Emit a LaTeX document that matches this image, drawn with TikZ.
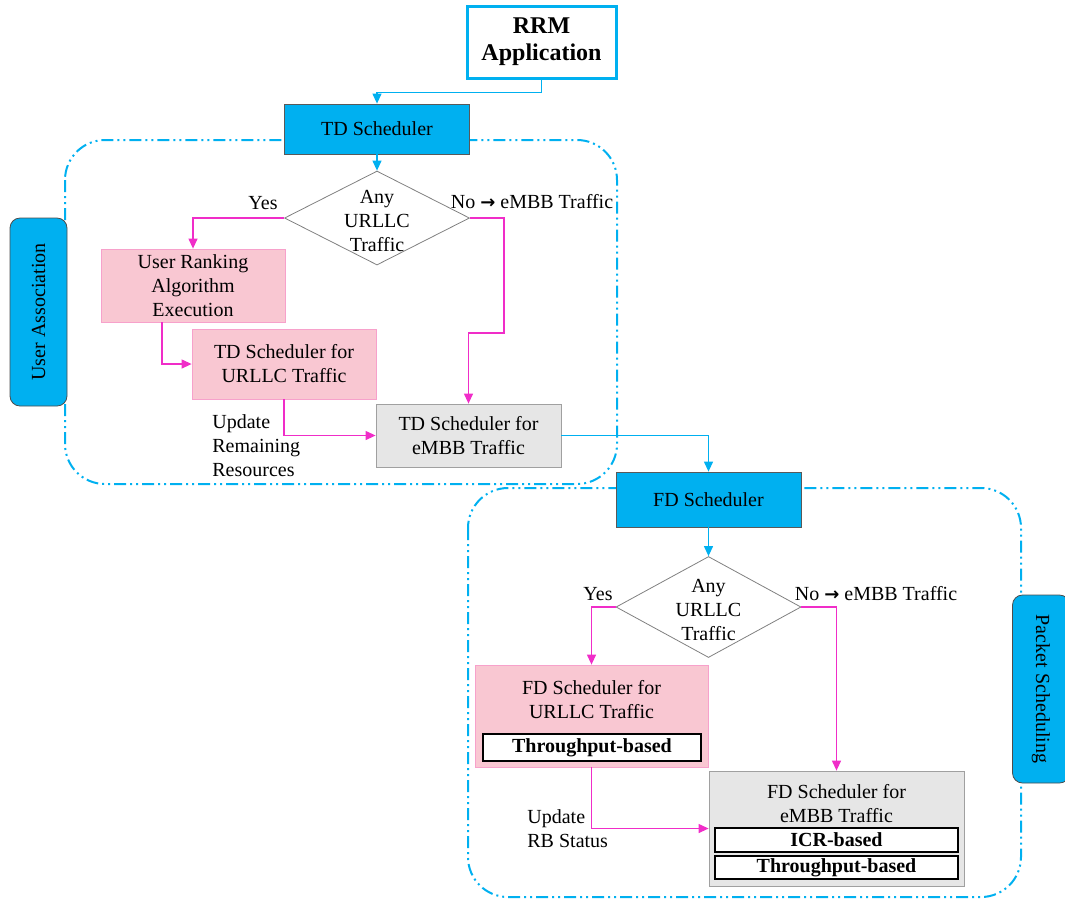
\documentclass[tikz,border=0pt]{standalone}
\usepackage{fontspec}
\setmainfont{Liberation Serif}
\newfontfamily\arrowfont{DejaVu Sans}
\usetikzlibrary{arrows.meta,shapes.geometric}

\definecolor{skyblue}{HTML}{00B0F0}
\definecolor{pinkfill}{HTML}{F9C7D2}
\definecolor{pinkline}{HTML}{F7A1CB}
\definecolor{magentaline}{HTML}{F02DC8}
\definecolor{greyfill}{HTML}{E6E6E6}
\definecolor{greyline}{HTML}{A0A0A0}

\begin{document}
\begin{tikzpicture}[x=0.5pt, y=-0.5pt]
    \tikzstyle{every node}=[font=\fontsize{10}{12}\selectfont, align=center, inner sep=0pt]
    \tikzstyle{bluebox}=[draw=gray!70!black, fill=skyblue, minimum width=92.5pt]
    \tikzstyle{pinkbox}=[draw=pinkline, fill=pinkfill]
    \tikzstyle{greybox}=[draw=greyline, fill=greyfill]
    \tikzstyle{decision}=[diamond, draw=gray, fill=white, minimum width=92.5pt, minimum height=47pt]
    \tikzstyle{methodbox}=[draw=black, line width=1.2pt, fill=white, font=\fontsize{10}{12}\selectfont\bfseries]
    \tikzstyle{sidetab}=[draw=gray!60!black, fill=skyblue, rounded corners=5pt, minimum width=94pt, minimum height=28.5pt]
    \tikzstyle{region}=[draw=skyblue, line width=1pt, rounded corners=20pt, dash pattern=on 6pt off 2pt on 1pt off 2pt on 1pt off 2pt]
    \tikzstyle{bluearrow}=[draw=skyblue, line width=0.6pt, -{Triangle[length=5pt,width=4.5pt]}]
    \tikzstyle{pinkarrow}=[draw=magentaline, line width=0.6pt, -{Triangle[length=5pt,width=4.5pt]}]

    \useasboundingbox (0,0) rectangle (1065,902);

% dash-dot regions for the two scheduling stages
    \draw[region] (65,140) rectangle (617,484);
    \draw[region] (468,488) rectangle (1021,897);

% side tabs
    \node[sidetab, rotate=90] (useras) at (38.5,312) {User Association};
    \node[sidetab, rotate=-90] (packsch) at (1041,689) {Packet Scheduling};

% time domain part
    \node[draw=skyblue, line width=1.5pt, fill=white, minimum width=74.5pt, minimum height=36pt, font=\fontsize{12}{13.5}\selectfont\bfseries] (rrm) at (541.5,42) {RRM\\Application};
    \node[bluebox, minimum height=25pt] (td) at (377,129) {TD Scheduler};
    \node[decision] (tddec) at (377,218) {};
    \node (tddectxt) at (377,221) {Any\\URLLC\\Traffic};
    \node (tdyes) at (263,203) {Yes};
    \node (tdno) at (532,202) {No {\arrowfont\bfseries\fontsize{9}{10}\selectfont →} eMBB Traffic};
    \node[pinkbox, minimum width=92pt, minimum height=36.5pt] (rank) at (193,285.5) {User Ranking\\Algorithm\\Execution};
    \node[pinkbox, minimum width=92pt, minimum height=35pt] (tdurllc) at (284,364) {TD Scheduler for\\URLLC Traffic};
    \node[greybox, minimum width=92.5pt, minimum height=31.5pt] (tdembb) at (468.5,435.5) {TD Scheduler for\\eMBB Traffic};
    \node[anchor=west, align=left] (tdupdate) at (212,446) {Update\\Remaining\\Resources};

    \draw[bluearrow] (rrm.south) -- ++(0,13) -| (td.north);
    \draw[bluearrow] (td.south) -- (tddec.north);
    \draw[pinkarrow] (tddec.west) -| (rank.north);
    \draw[pinkarrow] (tddec.east) -- ++(34,0) -- ++(0,115) -| (tdembb.north);
    \draw[pinkarrow] ([xshift=-15.5pt]rank.south) |- (tdurllc.west);
    \draw[pinkarrow] (tdurllc.south) |- (tdembb.west);

% frequency domain part
    \node[bluebox, minimum height=27.5pt] (fd) at (708.5,499.5) {FD Scheduler};
    \node[decision, minimum height=50.5pt] (fddec) at (708.5,607) {};
    \node (fddectxt) at (708.5,610) {Any\\URLLC\\Traffic};
    \node (fdyes) at (598,594) {Yes};
    \node (fdno) at (876,594) {No {\arrowfont\bfseries\fontsize{9}{10}\selectfont →} eMBB Traffic};
    \node[pinkbox, minimum width=116.5pt, minimum height=51pt] (fdurllc) at (591.5,716) {};
    \node (fdurllctxt) at (591.5,700) {FD Scheduler for\\URLLC Traffic};
    \node[methodbox, minimum width=109pt, minimum height=13.5pt] (fdtput) at (592,747.5) {Throughput-based};
    \node[greybox, minimum width=127.5pt, minimum height=57.5pt] (fdembb) at (836.5,828.5) {};
    \node (fdembbtxt) at (836.5,804) {FD Scheduler for\\eMBB Traffic};
    \node[methodbox, minimum width=121.5pt, minimum height=12pt] (icr) at (836.5,840) {ICR-based};
    \node[methodbox, minimum width=121.5pt, minimum height=11.5pt] (embbtput) at (836.5,867.5) {Throughput-based};
    \node[anchor=west, align=left] (fdupdate) at (527,829) {Update\\RB Status};

    \draw[bluearrow] (tdembb.east) -| (fd.north);
    \draw[bluearrow] (fd.south) -- (fddec.north);
    \draw[pinkarrow] (fddec.west) -| (fdurllc.north);
    \draw[pinkarrow] (fddec.east) -| (fdembb.north);
    \draw[pinkarrow] (fdurllc.south) |- (fdembb.west);

\end{tikzpicture}
\end{document}
